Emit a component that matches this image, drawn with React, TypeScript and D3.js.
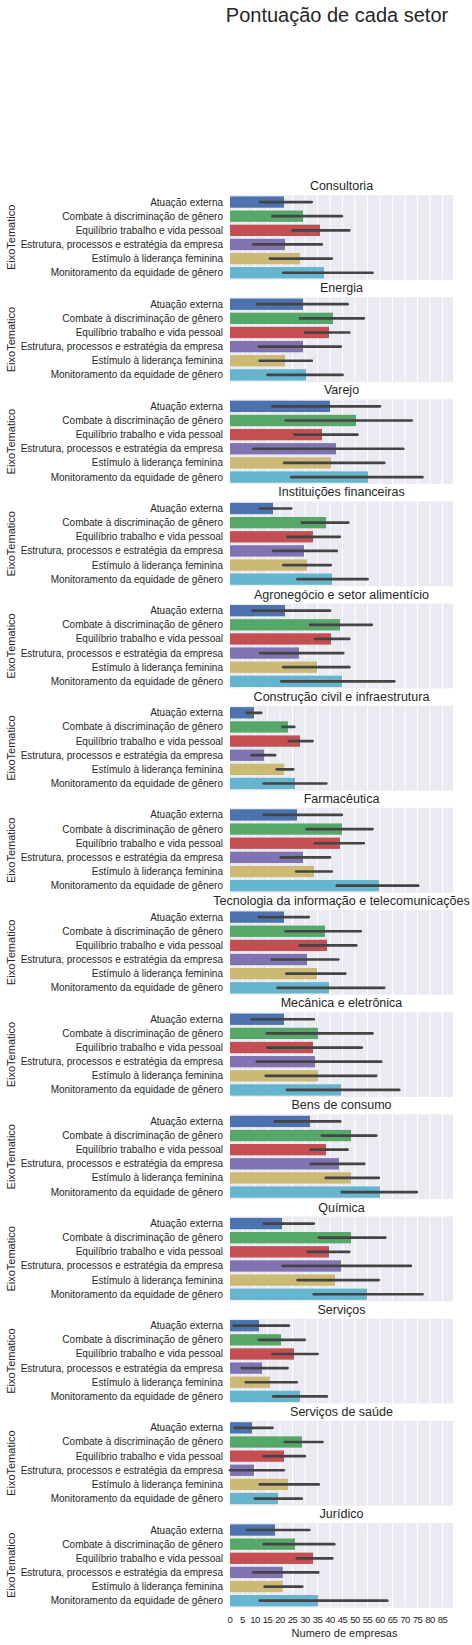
import React from "react";
import * as d3 from "d3";

const sectors = ["Consultoria","Energia","Varejo","Instituições financeiras","Agronegócio e setor alimentício","Construção civil e infraestrutura","Farmacêutica","Tecnologia da informação e telecomunicações","Mecânica e eletrônica","Bens de consumo","Química","Serviços","Serviços de saúde","Jurídico"];
const categories = ["Atuação externa","Combate à discriminação de gênero","Equilíbrio trabalho e vida pessoal","Estrutura, processos e estratégia da empresa","Estímulo à liderança feminina","Monitoramento da equidade de gênero"];
const colors = ["#4C72B0","#55A868","#C44E52","#8172B2","#CCB974","#64B5CD"];
const means = [
  [21.6,29.2,36,22,28,37.6],
  [29.2,41.2,39.6,29.2,22,30.4],
  [40,50.4,36.8,42.4,40.4,55.2],
  [17.2,38.4,33.2,29.6,30.8,40.8],
  [22,44,40.4,27.6,34.8,44.8],
  [9.6,23.2,28,13.6,21.6,26],
  [26.8,44.8,44,29.2,33.6,59.6],
  [21.6,38,38.8,30.8,34.8,39.6],
  [21.6,35.2,33.2,34,35.2,44.4],
  [32,48.4,38.4,43.6,48.4,60],
  [20.8,48.4,39.6,44.4,42,54.8],
  [11.6,20.4,25.6,12.8,16,28],
  [8.8,28.8,21.6,9.6,23.2,19.2],
  [18,26,33.2,21.1,21.1,35.2],
];
const ciLow = [
  [12,17,25,9.3,16,21.3],
  [11,28,30,11.5,11.9,15],
  [17,22.3,25.7,9.3,21.7,24.5],
  [11.9,28.7,23,17.3,21.3,27],
  [9,32,34,12,21.3,20.5],
  [6.7,21,23.5,8.7,18.7,13.5],
  [13.5,30.7,34,20.3,26.5,42.7],
  [11.5,22.3,27.9,16.7,22.5,19],
  [8.7,14.7,15,10.7,14.3,22.7],
  [17.9,36.7,32.3,32.3,38.3,44.7],
  [13.5,35.5,31,21,27,33.5],
  [1.5,11.5,17,4.7,6.3,17.3],
  [1.9,21.9,13.5,0,11.9,9.9],
  [6.7,13.5,26.7,9.3,13.9,11.9],
];
const ciHigh = [
  [32.7,44.7,47.7,36.7,40.7,57],
  [47,53.5,47.7,44.3,32.7,45],
  [60,72.7,51,69.3,61.7,77],
  [24.5,47.3,43.9,42.7,40.3,55],
  [40,56.7,47.7,45.3,47.7,65.7],
  [12.5,25.7,33,18,25.3,38.5],
  [44.7,57,53.5,40,40.7,75.3],
  [31.5,52.3,50.5,43.3,46.1,61.7],
  [33.5,57,52.7,60.5,58.5,67.7],
  [44.1,58.5,47,53.7,59.5,74.7],
  [33.5,62.1,47.7,72.3,59.5,77],
  [23.5,29.9,35,23,26.7,38.7],
  [17,37,29.9,21.5,35.5,28.7],
  [31.7,41.7,40.9,35.3,28.9,62.9],
];
const ticks = d3.range(0, 90, 5);

const W = 472, H = 1645;
const left = 230, right = 453;
const top0 = 195, pitch = 102.15, panelH = 84.8;
const font = "'Liberation Sans', Arial, sans-serif";

export default function App() {
  const x = d3.scaleLinear().domain([0, (right - left) / 2.5]).range([left, right]);
  const y = d3.scaleBand<string>().domain(categories).range([0, panelH]).paddingInner(0.2).paddingOuter(0.1);
  return (
    <svg width={W} height={H} style={{ position: "absolute", left: 0, top: 0 }} fontFamily={font}>
      <rect width={W} height={H} fill="#fff" />
      <text x={337} y={22} textAnchor="middle" fontSize={20} fill="#262626">Pontuação de cada setor</text>
      {sectors.map((s, i) => {
        const t = top0 + i * pitch;
        return (
          <g key={s} transform={`translate(0,${t})`}>
            <text x={(left + right) / 2} y={-5} textAnchor="middle" fontSize={12.5} fill="#262626">{s}</text>
            <rect x={left} y={0} width={right - left} height={panelH} fill="#EAEAF2" />
            {ticks.map(v => <line key={v} x1={x(v)} x2={x(v)} y1={0} y2={panelH} stroke="#fff" strokeWidth={1} />)}
            {categories.map((c, j) => {
              const by = y(c)!, bh = y.bandwidth(), cy = by + bh / 2;
              return (
                <g key={c}>
                  <rect x={x(0)} y={by} width={x(means[i][j]) - x(0)} height={bh} fill={colors[j]} />
                  <line x1={x(ciLow[i][j])} x2={x(ciHigh[i][j])} y1={cy} y2={cy} stroke="#444" strokeWidth={2.7} strokeLinecap="round" />
                  <text x={223} y={cy} dy="0.35em" textAnchor="end" fontSize={10} fill="#262626">{c}</text>
                </g>
              );
            })}
            <text transform={`translate(15,${panelH / 2}) rotate(-90)`} textAnchor="middle" fontSize={11} fill="#262626">EixoTematico</text>
          </g>
        );
      })}
      {ticks.map(v => (
        <text key={v} x={x(v)} y={1623} textAnchor="middle" fontSize={9.5} letterSpacing={-0.5} fill="#262626">{v}</text>
      ))}
      <text x={(left + right) / 2 + 3} y={1637} textAnchor="middle" fontSize={11} fill="#262626">Numero de empresas</text>
    </svg>
  );
}
